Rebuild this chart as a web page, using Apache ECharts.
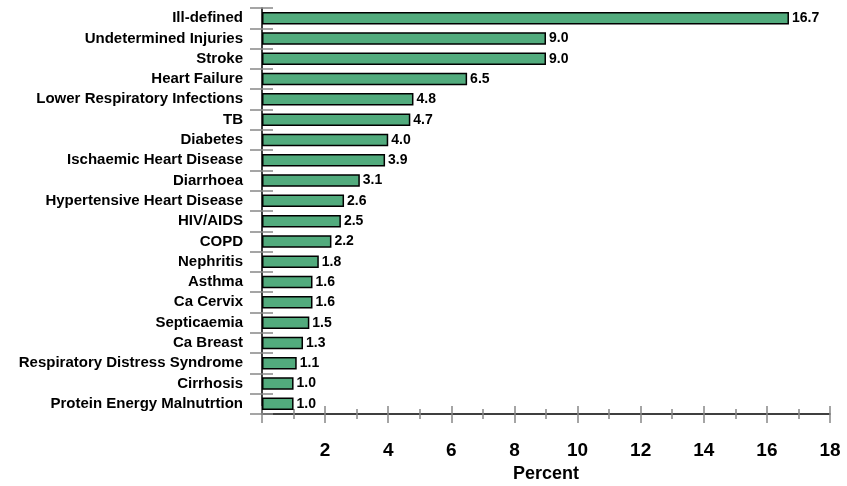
<!DOCTYPE html>
<html><head><meta charset="utf-8">
<script src="https://cdn.jsdelivr.net/npm/echarts@6/dist/echarts.min.js"></script>
<style>html,body{margin:0;padding:0;background:#fff}#c{width:847px;height:486px}</style>
</head><body><div id="c"></div>
<script>
const categories = ['Ill-defined','Undetermined Injuries','Stroke','Heart Failure','Lower Respiratory Infections','TB','Diabetes','Ischaemic Heart Disease','Diarrhoea','Hypertensive Heart Disease','HIV/AIDS','COPD','Nephritis','Asthma','Ca Cervix','Septicaemia','Ca Breast','Respiratory Distress Syndrome','Cirrhosis','Protein Energy Malnutrtion'];
const percentValues = [16.7,9.0,9.0,6.5,4.8,4.7,4.0,3.9,3.1,2.6,2.5,2.2,1.8,1.6,1.6,1.5,1.3,1.1,1.0,1.0];
const xTickLabels = ['', '2','4','6','8','10','12','14','16','18'];

const font = '"Liberation Sans", Arial, sans-serif';
const chart = echarts.init(document.getElementById('c'), null, {renderer:'canvas'});
chart.setOption({
  animation:false,
  grid:{left:262,right:17,top:8,bottom:72,containLabel:false,outerBoundsMode:'none'},
  xAxis:[{
    type:'value',min:0,max:18,interval:2,position:'bottom',
    name:'Percent',nameLocation:'middle',nameGap:47,
    nameTextStyle:{fontFamily:font,fontWeight:'bold',fontSize:18,color:'#000'},
    axisLine:{show:true,lineStyle:{color:'#000',width:1.5}},
    axisTick:{show:true,length:9,lineStyle:{color:'#888',width:1.5}},
    minorTick:{show:true,splitNumber:2,length:5,lineStyle:{color:'#888',width:1.5}},
    splitLine:{show:false},
    axisLabel:{margin:27,fontFamily:font,fontWeight:'bold',fontSize:19,color:'#000',
      formatter:function(v){return xTickLabels[Math.round(v/2)];}}
  },{
    type:'value',min:0,max:18,interval:2,position:'bottom',
    axisLine:{show:false},
    axisTick:{show:true,inside:true,length:8,lineStyle:{color:'#888',width:1.5}},
    minorTick:{show:true,splitNumber:2,length:5,lineStyle:{color:'#888',width:1.5}},
    splitLine:{show:false},axisLabel:{show:false}
  }],
  yAxis:[{
    type:'category',data:categories,inverse:true,
    axisLine:{show:true,lineStyle:{color:'#000',width:1.5}},
    axisTick:{show:true,length:12,lineStyle:{color:'#888',width:1.5}},
    axisLabel:{margin:19,fontFamily:font,fontWeight:'bold',fontSize:15,color:'#000'}
  },{
    type:'category',data:categories,inverse:true,position:'left',
    axisLine:{show:false},
    axisTick:{show:true,inside:true,length:11,lineStyle:{color:'#888',width:1.5}},
    axisLabel:{show:false}
  }],
  series:[{
    type:'bar',data:percentValues,xAxisIndex:0,yAxisIndex:0,barWidth:12.5,
    itemStyle:{color:'#52ab7d',borderColor:'#000',borderWidth:1.5},
    label:{show:true,position:'right',distance:3,fontFamily:font,fontWeight:'bold',fontSize:14,color:'#000',
      formatter:function(p){return p.value.toFixed(1);}}
  }]
});
</script></body></html>
